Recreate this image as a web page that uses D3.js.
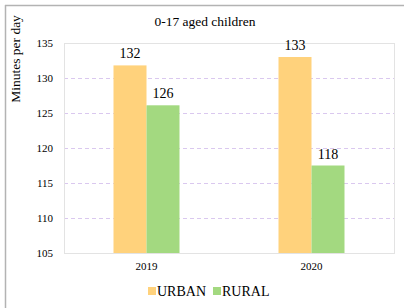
<!DOCTYPE html>
<html>
<head>
<meta charset="utf-8">
<script src="https://cdn.jsdelivr.net/npm/d3@7"></script>
<style>
  body { margin: 0; background: #fff; }
  svg { display: block; }
  svg text { font-family: "Liberation Serif", "Times New Roman", serif; }
</style>
</head>
<body>
<script>
// chart data
const years = ['2019', '2020']
const seriesNames = ['URBAN', 'RURAL']
const urban = [131.8, 133]
const rural = [126.1, 117.5]
const urbanLabels = ['132', '133']
const ruralLabels = ['126', '118']
const yTicks = [105, 110, 115, 120, 125, 130, 135]
const colors = {URBAN: '#ffd27c', RURAL: '#a3d980'}

const W = 404, H = 308
const FONT = '"Liberation Serif", "Times New Roman", serif'
const svg = d3.select('body').append('svg').attr('width', W).attr('height', H).attr('font-family', FONT)

// outer frame (left + top only visible)
svg.append('line').attr('x1', 5.5).attr('x2', 5.5).attr('y1', 5).attr('y2', H).attr('stroke', '#b3b3b3').attr('stroke-width', 1.5)
svg.append('line').attr('x1', 5).attr('x2', W).attr('y1', 5.5).attr('y2', 5.5).attr('stroke', '#b3b3b3').attr('stroke-width', 1.5)

const plot = {left: 64, right: 394, top: 43, bottom: 253}

const y = d3.scaleLinear().domain([105, 135]).range([plot.bottom, plot.top])
const x0 = d3.scaleBand().domain(years).range([plot.left, plot.right])
// gap width 150% -> group is 40% of band
const groupW = x0.bandwidth() * 0.4
const x1 = d3.scaleBand().domain(seriesNames).range([0, groupW])

// gridlines
svg.append('g').selectAll('line').data(yTicks.filter(t => t > 105 && t < 135)).join('line')
  .attr('x1', plot.left).attr('x2', plot.right)
  .attr('y1', d => Math.round(y(d)) + 0.5).attr('y2', d => Math.round(y(d)) + 0.5)
  .attr('stroke', '#dac8ef').attr('stroke-dasharray', '4,3')

// plot border
svg.append('rect').attr('x', plot.left + 0.5).attr('y', plot.top + 0.5)
  .attr('width', plot.right - plot.left).attr('height', plot.bottom - plot.top)
  .attr('fill', 'none').attr('stroke', '#e3e3e3').attr('stroke-width', 1)

// y axis
const yAxis = d3.axisLeft(y).tickValues(yTicks).tickSize(0).tickPadding(11)
const gy = svg.append('g').attr('transform', `translate(${plot.left},0)`).call(yAxis)
gy.attr('font-family', FONT)
gy.select('.domain').remove()
gy.selectAll('text').attr('font-size', 11).attr('fill', '#000')

// x axis
const xAxis = d3.axisBottom(x0).tickSize(0).tickPadding(9)
const gx = svg.append('g').attr('transform', `translate(0,${plot.bottom})`).call(xAxis)
gx.attr('font-family', FONT)
gx.select('.domain').remove()
gx.selectAll('text').attr('font-size', 11).attr('fill', '#000')

// bars
const rows = years.map((yr, i) => ({year: yr, values: [
  {key: 'URBAN', v: urban[i], label: urbanLabels[i]},
  {key: 'RURAL', v: rural[i], label: ruralLabels[i]}
]}))

const groups = svg.append('g').selectAll('g').data(rows).join('g')
  .attr('transform', d => `translate(${x0(d.year) + (x0.bandwidth() - groupW) / 2},0)`)

groups.selectAll('rect').data(d => d.values).join('rect')
  .attr('x', d => x1(d.key))
  .attr('y', d => y(d.v))
  .attr('width', x1.bandwidth())
  .attr('height', d => y(105) - y(d.v))
  .attr('fill', d => colors[d.key])

groups.selectAll('text').data(d => d.values).join('text')
  .attr('x', d => x1(d.key) + x1.bandwidth() / 2)
  .attr('y', d => y(d.v) - 7)
  .attr('text-anchor', 'middle')
  .attr('font-size', 14)
  .text(d => d.label)

// title
svg.append('text').attr('x', 205).attr('y', 26).attr('text-anchor', 'middle').attr('font-size', 13.5).text('0-17 aged children')

// y label
svg.append('text').attr('transform', 'translate(20,59) rotate(-90)').attr('text-anchor', 'middle').attr('font-size', 13.5).text('Minutes per day')

// legend
const legend = svg.append('g').attr('transform', 'translate(148,287)')
const legX = [0, 65]
seriesNames.forEach((s, i) => {
  legend.append('rect').attr('x', legX[i]).attr('y', 0).attr('width', 8).attr('height', 8).attr('fill', colors[s])
  legend.append('text').attr('x', legX[i] + 9).attr('y', 9).attr('font-size', 14).text(s)
})
</script>
</body>
</html>
